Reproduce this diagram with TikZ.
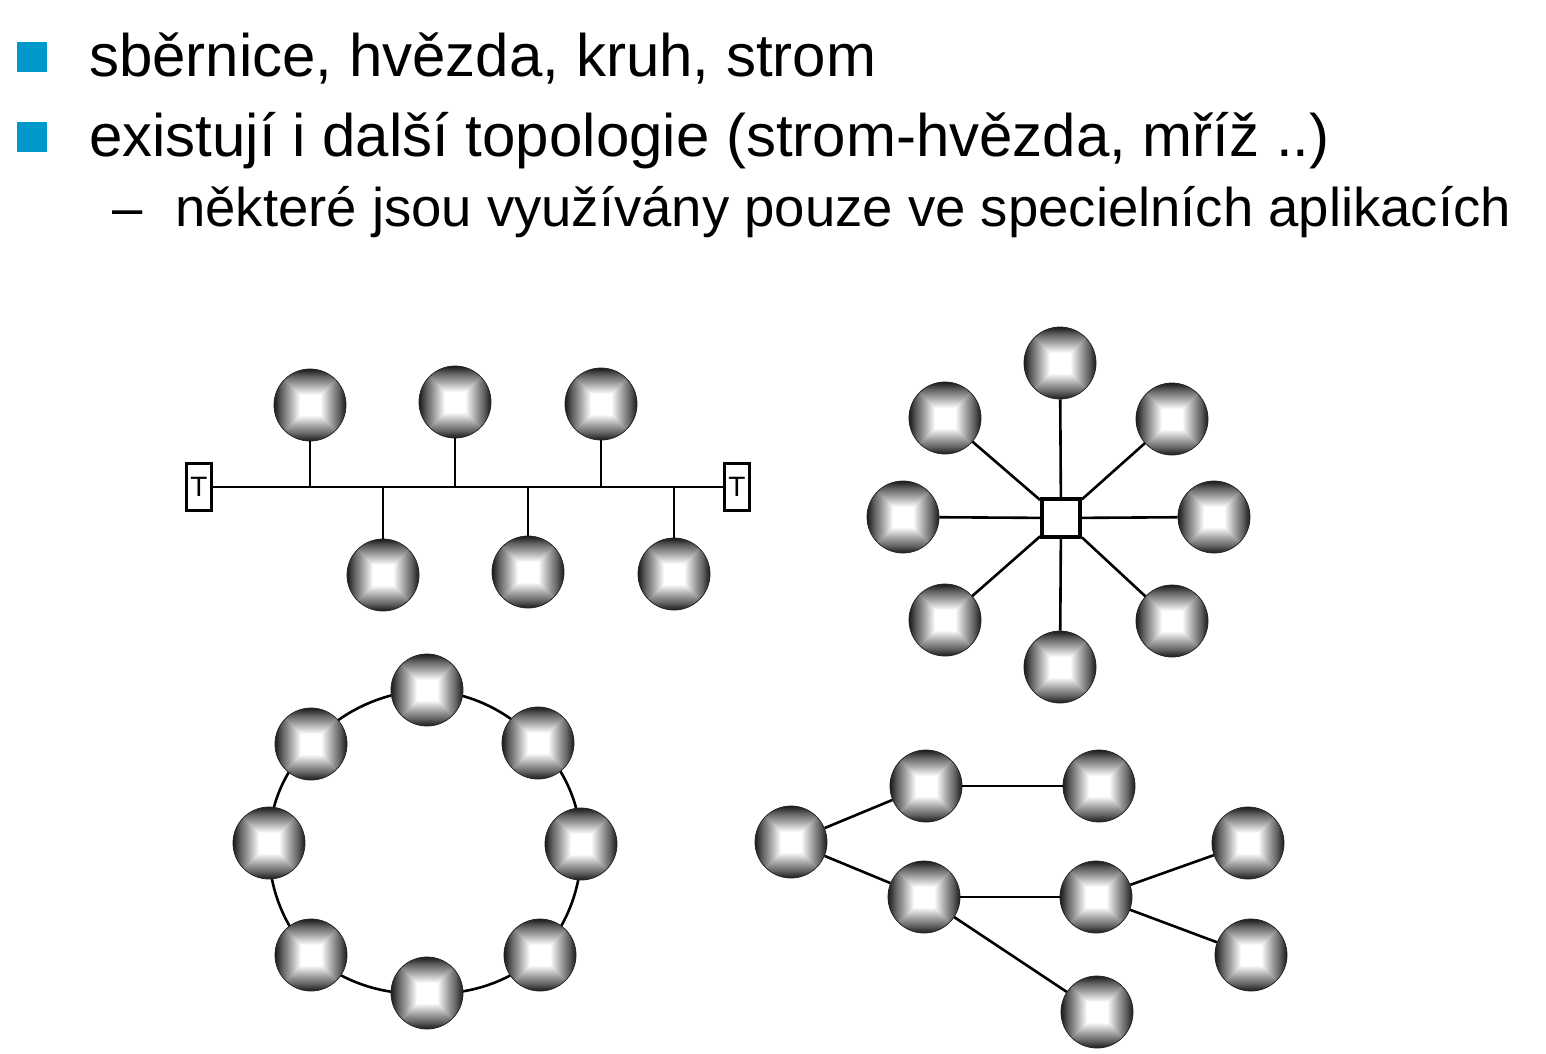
\documentclass[tikz,border=0pt]{standalone}
\usepackage{fontspec}
\setmainfont{Liberation Sans}
\usetikzlibrary{positioning, backgrounds}
\definecolor{bulletblue}{RGB}{0,153,204}
% gradient of one face of a station: white centre, dark rim
\pgfdeclareverticalshading{faceshade}{100bp}{%
    color(0bp)=(white); color(25bp)=(white); color(39bp)=(white);
    color(52bp)=(black!32); color(65bp)=(black!62);
    color(75bp)=(black!90); color(100bp)=(black!90)}
% same gradient, mirrored about the centre (top and bottom face at once)
\pgfdeclareverticalshading{bandshade}{100bp}{%
    color(0bp)=(black!90); color(25bp)=(black!90); color(30bp)=(black!62);
    color(36.5bp)=(black!32); color(43bp)=(white); color(57bp)=(white);
    color(63.5bp)=(black!32); color(70bp)=(black!62);
    color(75bp)=(black!90); color(100bp)=(black!90)}

\begin{document}
\begin{tikzpicture}[
    x=1pt, y=-1pt,
    % --- STYLES ---
    station/.style={
        circle, inner sep=0pt, minimum size=72pt,
        draw=black!85, line width=0.8pt,
        path picture={
            % vertical band plus two side triangles give the square "pyramid" look
            \coordinate (pc) at (path picture bounding box.center);
            \shade[shading=bandshade]
                (path picture bounding box.south west) rectangle (path picture bounding box.north east);
            \shade[shading=faceshade, shading angle=90]
                (pc) -- (path picture bounding box.north west) -- (path picture bounding box.south west) -- cycle;
            \shade[shading=faceshade, shading angle=270]
                (pc) -- (path picture bounding box.north east) -- (path picture bounding box.south east) -- cycle;
        }
    },
    term_box/.style={draw, line width=3.5pt, minimum width=25pt, minimum height=47pt, inner sep=0pt, font=\fontsize{28}{28}\selectfont},
    hub_box/.style={draw, line width=3.8pt, minimum size=38pt, inner sep=0pt},
    link/.style={line width=2.6pt},
    ring_arc/.style={link, bend left=22.5, looseness=0.89},
    bullet_sq/.style={fill=bulletblue, minimum size=30pt, inner sep=0pt},
    big_text/.style={anchor=base west, inner sep=0pt, font=\fontsize{60}{60}\selectfont},
    sub_text/.style={anchor=base west, inner sep=0pt, font=\fontsize{54.5}{54.5}\selectfont}
]
\useasboundingbox (0,0) rectangle (1546,1053);

% --- TEXT LINES ---
\node[bullet_sq] (B1) at (32,57) {};
\node[big_text] (T1) at (89,76) {sběrnice, hvězda, kruh, strom};
\node[bullet_sq] (B2) at (32,137) {};
\node[big_text] (T2) at (89,156) {existují i další topologie (strom-hvězda, mříž ..)};
\node[sub_text] (D3) at (112,226) {–};
\node[sub_text] (T3) at (175,226) {některé jsou využívány pouze ve specielních aplikacích};

% --- BUS (sběrnice) ---
\node[term_box] (TL) at (199,487) {T};
\node[term_box] (TR) at (737,487) {T};
\draw[link] (TL.east) -- (TR.west);
% stations above the bus
\node[station] (U1) at (310,405) {};
\node[station] (U2) at (455,402) {};
\node[station] (U3) at (601,404) {};
% stations below the bus
\node[station] (D1) at (383,575) {};
\node[station] (D2) at (528,572) {};
\node[station] (D3s) at (674,574) {};
% taps on the bus
\coordinate (tapU1) at (310,487);
\coordinate (tapU2) at (455,487);
\coordinate (tapU3) at (601,487);
\coordinate (tapD1) at (383,487);
\coordinate (tapD2) at (528,487);
\coordinate (tapD3) at (674,487);
\draw[link] (U1) -- (tapU1);
\draw[link] (U2) -- (tapU2);
\draw[link] (U3) -- (tapU3);
\draw[link] (D1) -- (tapD1);
\draw[link] (D2) -- (tapD2);
\draw[link] (D3s) -- (tapD3);

% --- STAR (hvězda) ---
\node[hub_box] (H) at (1061,518) {};
\node[station] (S1) at (1060,363) {};
\node[station] (S2) at (1172,419) {};
\node[station] (S3) at (1214,517) {};
\node[station] (S4) at (1172,621) {};
\node[station] (S5) at (1060,667) {};
\node[station] (S6) at (945,620) {};
\node[station] (S7) at (903,517) {};
\node[station] (S8) at (945,418) {};
\draw[link] (H) -- (S1);
\draw[link] (H) -- (S2);
\draw[link] (H) -- (S3);
\draw[link] (H) -- (S4);
\draw[link] (H) -- (S5);
\draw[link] (H) -- (S6);
\draw[link] (H) -- (S7);
\draw[link] (H) -- (S8);

% --- RING (kruh) ---
\node[station] (R1) at (427,690) {};
\node[station] (R2) at (538,743) {};
\node[station] (R3) at (581,844) {};
\node[station] (R4) at (540,955) {};
\node[station] (R5) at (427,993) {};
\node[station] (R6) at (311,955) {};
\node[station] (R7) at (269,843) {};
\node[station] (R8) at (311,744) {};
% arcs run centre to centre, behind the stations
\begin{scope}[on background layer]
\draw[ring_arc] (R1.center) to (R2.center);
\draw[ring_arc] (R2.center) to (R3.center);
\draw[ring_arc] (R3.center) to (R4.center);
\draw[ring_arc] (R4.center) to (R5.center);
\draw[ring_arc] (R5.center) to (R6.center);
\draw[ring_arc] (R6.center) to (R7.center);
\draw[ring_arc] (R7.center) to (R8.center);
\draw[ring_arc] (R8.center) to (R1.center);
\end{scope}

% --- TREE (strom) ---
\node[station] (K0) at (791,842) {};
\node[station] (K1) at (926,786) {};
\node[station] (K2) at (1099,786) {};
\node[station] (K3) at (924,897) {};
\node[station] (K4) at (1096,897) {};
\node[station] (K5) at (1248,843) {};
\node[station] (K6) at (1251,955) {};
\node[station] (K7) at (1097,1012) {};
\draw[link] (K0) -- (K1);
\draw[link] (K0) -- (K3);
\draw[link] (K1) -- (K2);
\draw[link] (K3) -- (K4);
\draw[link] (K3) -- (K7);
\draw[link] (K4) -- (K5);
\draw[link] (K4) -- (K6);

\end{tikzpicture}
\end{document}
